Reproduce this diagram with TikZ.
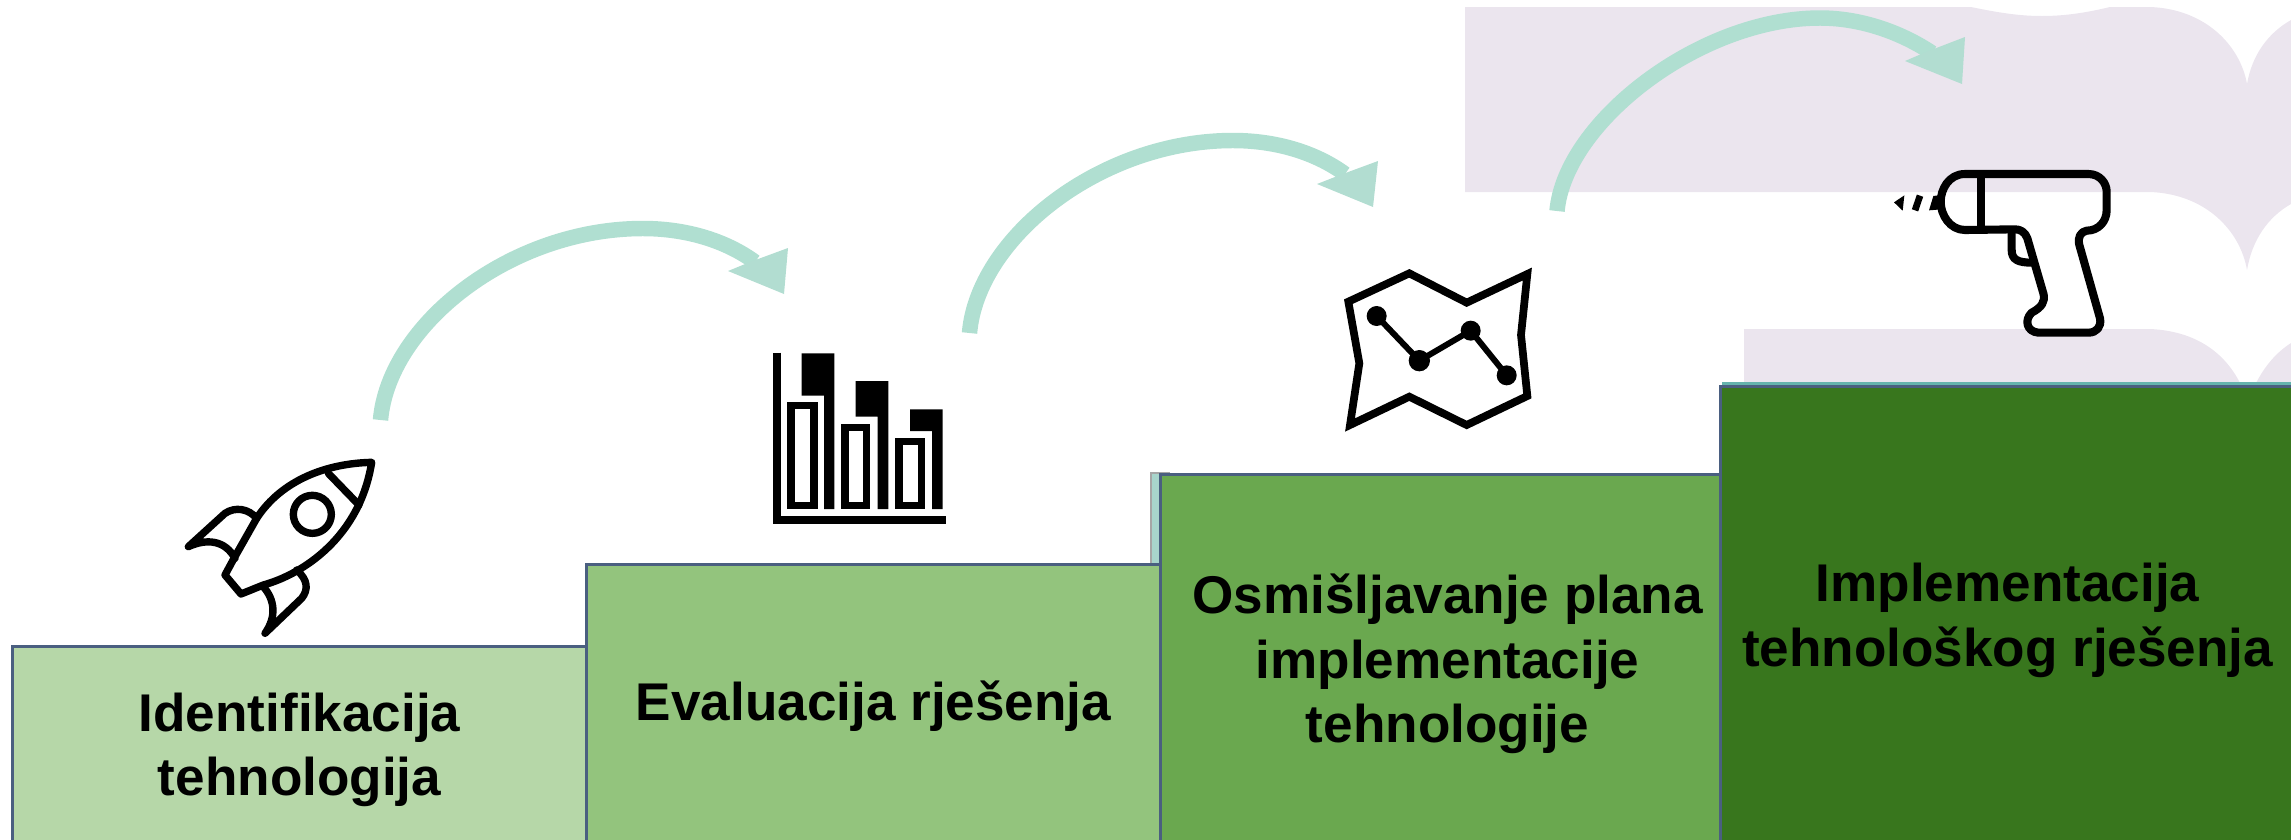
\documentclass[tikz,border=0pt]{standalone}
\usepackage{fontspec}
\setmainfont[Ligatures=NoCommon]{Liberation Sans}
\definecolor{lilac}{HTML}{EBE5EE}
\definecolor{mint}{HTML}{B0DFD1}
\definecolor{minthead}{HTML}{B2DDD1}
\definecolor{edgeblue}{HTML}{4A5F80}
\definecolor{stripteal}{HTML}{A8D5CC}
\definecolor{stepa}{HTML}{B6D7A8}
\definecolor{stepb}{HTML}{93C47D}
\definecolor{stepc}{HTML}{6AA84F}
\definecolor{stepd}{HTML}{38761D}
\tikzset{
  stepbox/.style={draw=edgeblue,line width=.8pt,anchor=north west,minimum width=5.74cm,inner sep=0pt,align=center,text=black,font=\fontsize{15.1}{18.4}\selectfont\bfseries},
  shaft/.style={draw=mint,line width=4.4pt,line cap=butt},
  headfill/.style={fill=minthead},
  icon/.style={draw=black,line width=2.1pt,line join=round,line cap=round,fill=none},
}
\begin{document}
\begin{tikzpicture}[x=.01cm,y=-.01cm]
\useasboundingbox (0,0) rectangle (2291,839);
\clip (0,0) rectangle (2291,839);
% lilac background
\fill[lilac] (1465,7) -- (1971,7) .. controls (2000,13) and (2020,16) .. (2042,16) .. controls (2064,16) and (2085,13) .. (2110,7) -- (2150,7) .. controls (2205,9) and (2240,45) .. (2247,84) .. controls (2252,55) and (2268,33) .. (2291,20) -- (2291,204) .. controls (2268,217) and (2252,240) .. (2247,270) .. controls (2240,230) and (2205,194) .. (2150,192) -- (1465,192) -- cycle;
\fill[lilac] (1744,329) -- (2150,329) .. controls (2195,331) and (2225,352) .. (2241,385) -- (2255,385) .. controls (2265,365) and (2277,352) .. (2291,343) -- (2291,390) -- (1744,390) -- cycle;
% teal slivers behind the steps
\fill[stripteal] (1151,473) rectangle (1170,563);
\draw[gray!70,line width=.3pt] (1151,563) -- (1151,473) -- (1170,473);
\fill[stripteal!60!teal] (1722,381.5) rectangle (2291,390);
% arrows
\coordinate (a1s) at (380.5,420); \coordinate (a1m) at (643,228.5); \coordinate (a1e) at (755,262);
\coordinate (a2s) at (969.5,333); \coordinate (a2m) at (1233,140.5); \coordinate (a2e) at (1345,174);
\coordinate (a3s) at (1557,211); \coordinate (a3m) at (1820,18); \coordinate (a3e) at (1932,53);
\draw[shaft] (a1s) .. controls +(8,-95) and +(-133,0) .. (a1m) .. controls +(42,0) and +(-30,-22) .. (a1e);
\fill[headfill] (788,248) -- (784,294) -- (728,271) -- (750,262) -- cycle;
\draw[shaft] (a2s) .. controls +(8,-95) and +(-133,0) .. (a2m) .. controls +(42,0) and +(-30,-22) .. (a2e);
\fill[headfill] (1378,161) -- (1373,207) -- (1317,184) -- (1340,175) -- cycle;
\draw[shaft] (a3s) .. controls +(8,-89) and +(-120,0) .. (a3m) .. controls +(42,0) and +(-30,-20) .. (a3e);
\fill[headfill] (1965,37) -- (1962,84) -- (1905,61) -- (1926,52) -- cycle;
% steps
\node[stepbox,fill=stepa,minimum height=2.07cm] (s1) at (11,645) {Identifikacija\\tehnologija};
\node[stepbox,fill=stepb,minimum height=2.84cm] (s2) at (585,563) {Evaluacija rješenja};
\node[stepbox,fill=stepc,minimum height=3.79cm] (s3) at (1159,473) {Osmišljavanje plana\\implementacije\\tehnologije};
\node[stepbox,fill=stepd,minimum height=4.67cm] (s4) at (1719,385) {Implementacija\\tehnološkog rješenja};
% rocket
\begin{scope}[shift={(160,430)},scale=.33333]
\draw[icon] (635,97) .. controls (500,100) and (365,150) .. (290,265) -- (222,385) -- (195,435) -- (243,492) -- (310,465) .. controls (430,432) and (600,320) .. (635,97) -- cycle;
\draw[icon] (505,130) -- (597,225);
\draw[icon] (457,253) circle (57);
\draw[icon] (290,265) .. controls (265,235) and (225,230) .. (195,250) -- (85,350) .. controls (140,325) and (195,330) .. (225,385);
\draw[icon] (410,420) .. controls (445,450) and (445,480) .. (425,505) -- (315,610) .. controls (350,560) and (345,510) .. (310,470);
\end{scope}
% chart
\begin{scope}[shift={(750,330)},scale=.33333]
\draw[icon,line cap=butt,line join=miter,line width=2.2pt] (80,68) -- (80,571) -- (588,571);
\fill (155,70) -- (253,70) -- (253,537) -- (222,537) -- (222,197) -- (155,197) -- cycle;
\fill (317,153) -- (415,153) -- (415,537) -- (383,537) -- (383,260) -- (317,260) -- cycle;
\fill (480,238) -- (578,238) -- (578,537) -- (546,537) -- (546,303) -- (480,303) -- cycle;
\draw[icon,line join=miter,line width=2.1pt] (123,227) rectangle (192,527);
\draw[icon,line join=miter,line width=2.1pt] (285,292) rectangle (350,527);
\draw[icon,line join=miter,line width=2.1pt] (447,335) rectangle (515,527);
\end{scope}
% map
\begin{scope}[shift={(1320,250)},scale=.33333]
\draw[icon,line join=miter,line width=2.2pt] (85,155) -- (268,70) -- (440,158) -- (622,72) -- (603,255) -- (622,438) -- (440,525) -- (268,440) -- (90,525) -- (118,340) -- cycle;
\draw[icon,line width=1.7pt] (170,198) -- (298,332) -- (452,242) -- (560,376);
\fill (170,198) circle (30);
\fill (298,332) circle (32);
\fill (452,242) circle (30);
\fill (560,376) circle (30);
\end{scope}
% drill
\begin{scope}[shift={(1870,150)},scale=.33333]
\draw[icon,line width=2.3pt] (285,72) -- (655,72) .. controls (690,72) and (710,100) .. (710,125) -- (710,180) .. controls (710,215) and (685,242) .. (650,242) .. controls (632,245) and (622,262) .. (628,285) -- (690,505) .. controls (695,530) and (680,548) .. (655,548) -- (505,548) .. controls (470,545) and (462,510) .. (485,488) .. controls (515,472) and (527,455) .. (520,430) -- (472,265) .. controls (465,245) and (450,238) .. (435,238) -- (285,240) .. controls (240,240) and (212,195) .. (212,155) .. controls (212,120) and (235,72) .. (285,72) -- cycle;
\draw[icon,line cap=butt,line width=2.3pt] (332,72) -- (332,240);
\draw[icon,line cap=butt,line width=2.3pt] (425,245) -- (425,300) .. controls (425,330) and (445,338) .. (487,338);
\fill (190,138) -- (215,135) -- (215,178) -- (177,181) -- cycle;
\draw[icon,line cap=butt,line width=1.9pt] (150,137) -- (135,181);
\fill (103,136) -- (98,182) -- (72,157) -- cycle;
\end{scope}
\end{tikzpicture}
\end{document}
